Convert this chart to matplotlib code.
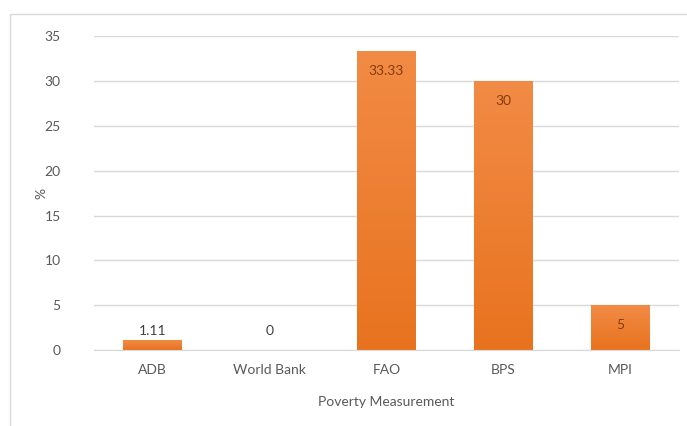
import numpy as np
import matplotlib
matplotlib.use("Agg")
import matplotlib.pyplot as plt
from matplotlib.patches import Rectangle

plt.rcParams['font.family'] = ['Lato', 'DejaVu Sans']

categories = ["ADB", "World Bank", "FAO", "BPS", "MPI"]
values = [1.11, 0, 33.33, 30, 5]
labels = ["1.11", "0", "33.33", "30", "5"]
yticks = [0, 5, 10, 15, 20, 25, 30, 35]

fig = plt.figure(figsize=(6.87, 4.26), dpi=100)
ax = fig.add_axes([0.137, 0.178, 0.851, 0.737])

# outer frame of the chart area
fig.patches.append(Rectangle((10 / 687, -0.05), 1.2, 1 - 14 / 426 + 0.05,
                             transform=fig.transFigure, fill=False,
                             edgecolor="#d9d9d9", linewidth=1))

x = np.arange(len(categories))
bars = ax.bar(x, values, width=0.5, color="#ED7D31", zorder=2)

# vertical gradient on the bars, lighter at top
grad = np.linspace(0, 1, 256).reshape(-1, 1)
cmap = matplotlib.colors.LinearSegmentedColormap.from_list("g", ["#E8731F", "#F28B45"])
for b in bars:
    if b.get_height() <= 0:
        continue
    x0, y0 = b.get_x(), b.get_y()
    w, h = b.get_width(), b.get_height()
    im = ax.imshow(grad, extent=[x0, x0 + w, y0, y0 + h], origin="lower",
                   aspect="auto", cmap=cmap, zorder=2.5)
    im.set_clip_path(b)

for xi, v, lab in zip(x, values, labels):
    if v > 3:
        ax.annotate(lab, (xi, v), xytext=(0, -14), textcoords="offset pixels",
                    ha="center", va="top", fontsize=10, color="#843C0C", zorder=3)
    else:
        ax.annotate(lab, (xi, max(v, 1.11)), xytext=(0, 3), textcoords="offset pixels",
                    ha="center", va="bottom", fontsize=10, color="#404040", zorder=3)

ax.set_xlim(-0.5, len(categories) - 0.5)
ax.set_ylim(0, 35)
ax.set_yticks(yticks)
ax.set_xticks(x)
ax.set_xticklabels(categories)
ax.grid(axis="y", color="#d9d9d9", linewidth=1, zorder=0)
for s in ["top", "right", "left"]:
    ax.spines[s].set_visible(False)
ax.spines["bottom"].set_color("#d9d9d9")
ax.tick_params(length=0, colors="#595959", labelsize=10)
ax.tick_params(axis="y", pad=24)
ax.tick_params(axis="x", pad=10)

ax.set_xlabel("Poverty Measurement", fontsize=10, color="#595959", labelpad=14)
ax.set_ylabel("%", fontsize=10, color="#595959", labelpad=10)
ax.yaxis.set_label_coords(-0.08, 0.5)

fig.savefig("out.png", dpi=100)
